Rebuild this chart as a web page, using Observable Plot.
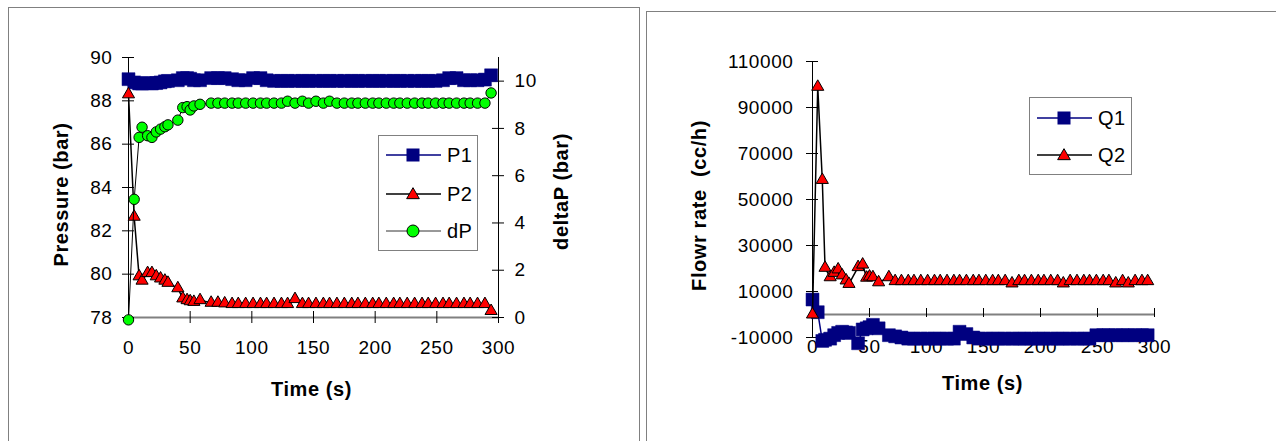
<!DOCTYPE html>
<html><head><meta charset="utf-8">
<script src="https://cdn.jsdelivr.net/npm/d3@7"></script>
<script src="https://cdn.jsdelivr.net/npm/@observablehq/plot@0.6"></script>
<style>
body{margin:0;background:#fff;}
#page{position:relative;width:1276px;height:441px;overflow:hidden;background:#fff;font-family:"Liberation Sans",Arial,sans-serif;}
.frame{position:absolute;border:1px solid #808080;box-sizing:border-box;}
.chart{position:absolute;top:0;}
.legend{position:absolute;border:1px solid #808080;background:#fff;box-sizing:border-box;}
.legend .row{position:absolute;left:0;height:24px;}
.legend .lbl{position:absolute;font-size:20px;letter-spacing:0.5px;line-height:24px;}
</style></head><body>
<div id="page">
  <div class="frame" style="left:8px;top:7px;width:632px;height:450px"></div>
  <div class="frame" style="left:646px;top:11px;width:650px;height:450px"></div>
  <div id="left" class="chart" style="left:0px"></div>
  <div id="right" class="chart" style="left:640px"></div>
</div>
<script>
// ---- data ----
const time = [0, 4.6, 8.6, 11, 15.5, 19, 22.5, 26, 29.5, 32, 40, 44, 47.5, 50, 53, 58, 67, 72.5,
  78, 84, 89, 95, 101, 107, 112, 118, 124, 129, 135, 141, 146, 152, 158, 163, 169, 175, 181, 186,
  192, 198, 203, 209, 215, 220, 226, 232, 238, 243, 249, 255, 260, 266, 272, 277, 283, 289, 294];
const P1 = [89.0, 88.85, 88.8, 88.8, 88.82, 88.8, 88.82, 88.85, 88.9, 88.92, 88.95, 89.05, 89.05, 89.02, 88.95, 88.95, 89.05, 89.05,
  89.05, 89.0, 88.95, 88.95, 89.05, 89.05, 88.95, 88.92, 88.92, 88.92, 88.92, 88.92, 88.92, 88.92, 88.92, 88.92, 88.92, 88.92, 88.92, 88.92,
  88.92, 88.92, 88.92, 88.92, 88.92, 88.92, 88.92, 88.92, 88.92, 88.92, 88.92, 88.95, 89.05, 89.05, 88.95, 88.95, 88.95, 88.98, 89.18];
const P2 = [88.3, 82.65, 79.9, 79.7, 80.05, 80.05, 79.9, 79.8, 79.7, 79.6, 79.35, 78.88, 78.8, 78.75, 78.72, 78.8, 78.68, 78.68,
  78.65, 78.62, 78.62, 78.62, 78.62, 78.62, 78.62, 78.62, 78.62, 78.62, 78.85, 78.62, 78.62, 78.62, 78.62, 78.62, 78.62, 78.62, 78.62, 78.62,
  78.62, 78.62, 78.62, 78.62, 78.62, 78.62, 78.62, 78.62, 78.62, 78.62, 78.62, 78.62, 78.62, 78.62, 78.62, 78.62, 78.62, 78.62, 78.3];
const dP = [-0.1, 5.0, 7.62, 8.05, 7.69, 7.62, 7.85, 7.97, 8.07, 8.15, 8.35, 8.88, 8.92, 8.78, 8.95, 9.02, 9.07, 9.07,
  9.07, 9.07, 9.07, 9.07, 9.07, 9.07, 9.07, 9.07, 9.07, 9.15, 9.07, 9.15, 9.07, 9.15, 9.07, 9.15, 9.07, 9.07, 9.07, 9.07,
  9.07, 9.07, 9.07, 9.07, 9.07, 9.07, 9.07, 9.07, 9.07, 9.07, 9.07, 9.07, 9.07, 9.07, 9.07, 9.07, 9.07, 9.07, 9.5];
const Q1 = [6500, 1000, -11500, -11000, -10500, -9000, -8000, -7500, -7800, -8000, -12500, -6500, -6000, -5500, -4500, -6000, -9000, -9500,
  -10000, -10500, -10500, -10500, -10500, -10500, -10500, -10500, -10500, -7500, -8500, -10000, -10500, -10500, -10500, -10500, -10500, -10500, -10500, -10500,
  -10500, -10500, -10500, -10500, -10500, -10500, -10500, -10500, -10500, -10500, -9000, -9000, -9000, -9000, -9000, -9000, -9000, -9000, -9000];
const Q2 = [0, 99000, 58500, 20300, 16200, 18100, 19600, 17000, 14800, 13300, 20600, 21700, 16000, 16500, 16200, 14000, 16200, 14500,
  14500, 14500, 14500, 14500, 14500, 14500, 14500, 14500, 14500, 14500, 14500, 14500, 14500, 14500, 14500, 14500, 14500, 13500, 14500, 14500,
  14500, 14500, 14500, 14500, 14500, 13500, 14500, 14500, 14500, 14500, 14500, 14500, 14500, 13500, 14500, 13500, 14500, 14500, 14500];

const timeTicks = [0, 50, 100, 150, 200, 250, 300];
const pressureTicks = [78, 80, 82, 84, 86, 88, 90];
const deltaPTicks = [0, 2, 4, 6, 8, 10];
const flowTicks = [-10000, 10000, 30000, 50000, 70000, 90000, 110000];

const rows = time.map((t, i) => ({t, P1: P1[i], P2: P2[i], dP: dP[i], Q1: Q1[i], Q2: Q2[i]}));

// secondary axis (deltaP 0..11) mapped onto the pressure axis (78..90)
const toP = d3.scaleLinear([0, 11], [78, 90]);

const NAVY = "#000080", RED = "#FF0000", GREEN = "#00FF00";
const font = '"Liberation Sans", Arial, sans-serif';
const TICK_FS = 19, TITLE_FS = 20;
const title = (txt, o) => Plot.text([txt], {text: d => d, fontWeight: "bold", fontSize: TITLE_FS, textAnchor: "middle", lineAnchor: "middle", ariaLabel: "title", ...o});

const left = Plot.plot({
  width: 640, height: 441,
  marginLeft: 128, marginRight: 142, marginTop: 57, marginBottom: 124,
  x: {domain: [0, 300]},
  y: {domain: [78, 90]},
  style: {fontFamily: font, fontSize: "18px", color: "black", background: "transparent", overflow: "visible"},
  marks: [
    Plot.axisY({anchor: "left", ticks: pressureTicks, tickSize: 0, tickPadding: 16, label: null, fontSize: TICK_FS}),
    Plot.axisY({anchor: "right", ticks: deltaPTicks.map(toP), tickFormat: d => String(Math.round(toP.invert(d))), tickSize: 0, tickPadding: 16, label: null, fontSize: TICK_FS}),
    Plot.axisX({anchor: "bottom", ticks: timeTicks, tickSize: 0, tickPadding: 23, label: null, fontSize: TICK_FS}),
    Plot.ruleY([78], {x1: 0, x2: 300, stroke: "#808080", strokeWidth: 2}),
    Plot.ruleX([0, 300], {y1: 78, y2: 90, stroke: "black"}),
    Plot.ruleY(pressureTicks, {x1: 0, x2: 0, insetLeft: -6, insetRight: -6, stroke: "black"}),
    Plot.ruleY(deltaPTicks.map(toP), {x1: 300, x2: 300, insetLeft: -6, insetRight: -6, stroke: "black"}),
    Plot.ruleX(timeTicks, {y1: 78, y2: 78, insetTop: -6, insetBottom: -6, stroke: "black"}),
    Plot.line(rows, {x: "t", y: "P1", stroke: NAVY, strokeWidth: 1.5}),
    Plot.dot(rows, {x: "t", y: "P1", symbol: "square", r: 7.3, fill: NAVY, stroke: NAVY, strokeWidth: 0.5}),
    Plot.line(rows, {x: "t", y: "P2", stroke: "black", strokeWidth: 1.5}),
    Plot.dot(rows, {x: "t", y: "P2", symbol: "triangle", r: 4.5, fill: RED, stroke: "black", strokeWidth: 1}),
    Plot.line(rows, {x: "t", y: d => toP(d.dP), stroke: "black", strokeWidth: 1}),
    Plot.dot(rows, {x: "t", y: d => toP(d.dP), r: 5.2, fill: GREEN, stroke: "black", strokeWidth: 1}),
    title("Time (s)", {frameAnchor: "bottom", dx: -2, dy: 72}),
    title("Pressure (bar)", {frameAnchor: "left", dx: -67, dy: 7, rotate: -90}),
    title("deltaP (bar)", {frameAnchor: "right", dx: 63, dy: 4, rotate: -90})
  ]
});
document.getElementById("left").appendChild(left);

const right = Plot.plot({
  width: 636, height: 441,
  marginLeft: 172, marginRight: 122, marginTop: 61, marginBottom: 104,
  x: {domain: [0, 300]},
  y: {domain: [-10000, 110000]},
  style: {fontFamily: font, fontSize: "18px", color: "black", background: "transparent", overflow: "visible"},
  marks: [
    Plot.axisY({anchor: "left", ticks: flowTicks, tickFormat: d => String(d), tickSize: 0, tickPadding: 19, label: null, fontSize: TICK_FS}),
    Plot.axisX({anchor: "bottom", ticks: timeTicks, tickSize: 0, tickPadding: 2, label: null, fontSize: TICK_FS}),
    Plot.ruleY([0], {x1: 0, x2: 300, stroke: "#808080", strokeWidth: 2}),
    Plot.ruleX([0], {y1: -10000, y2: 110000, stroke: "black"}),
    Plot.ruleY(flowTicks, {x1: 0, x2: 0, insetLeft: -6, insetRight: -6, stroke: "black"}),
    Plot.ruleX(timeTicks, {y1: 0, y2: 0, insetTop: -6, insetBottom: -3, stroke: "black"}),
    Plot.line(rows, {x: "t", y: "Q1", stroke: NAVY, strokeWidth: 1.5}),
    Plot.dot(rows, {x: "t", y: "Q1", symbol: "square", r: 7.3, fill: NAVY, stroke: NAVY, strokeWidth: 0.5}),
    Plot.line(rows, {x: "t", y: "Q2", stroke: "black", strokeWidth: 1.5}),
    Plot.dot(rows, {x: "t", y: "Q2", symbol: "triangle", r: 4.5, fill: RED, stroke: "black", strokeWidth: 1}),
    title("Time (s)", {frameAnchor: "bottom", dx: -1, dy: 46}),
    title("Flowr rate\u00a0\u00a0(cc/h)", {frameAnchor: "left", dx: -113, dy: 6, rotate: -90})
  ]
});
document.getElementById("right").appendChild(right);

// letter spacing (the reference text is drawn slightly wide)
d3.selectAll("#page svg text").style("letter-spacing", "0.6px");
d3.selectAll("#page svg g[aria-label='title'] text").style("letter-spacing", "1.2px");

// ---- legends ----
function legend(x, y, w, h, entries) {
  const box = document.createElement("div");
  box.className = "legend";
  Object.assign(box.style, {left: x + "px", top: y + "px", width: w + "px", height: h + "px"});
  for (const e of entries) {
    const row = document.createElement("div");
    row.className = "row";
    row.style.top = (e.y - 12) + "px";
    row.style.width = w + "px";
    const s = d3.create("svg").attr("width", 64).attr("height", 24).style("position", "absolute").style("left", "0px").style("top", "0px");
    s.append("line").attr("x1", 7).attr("x2", 62).attr("y1", 12).attr("y2", 12).attr("stroke", e.line).attr("stroke-width", e.lw);
    if (e.sym === "square") s.append("rect").attr("x", 27.5).attr("y", 5.5).attr("width", 13).attr("height", 13).attr("fill", NAVY);
    if (e.sym === "triangle") s.append("path").attr("d", d3.symbol(d3.symbolTriangle, 70)()).attr("transform", "translate(34,13)").attr("fill", RED).attr("stroke", "black");
    if (e.sym === "circle") s.append("circle").attr("cx", 34).attr("cy", 12).attr("r", 6).attr("fill", GREEN).attr("stroke", "black");
    row.appendChild(s.node());
    const lbl = document.createElement("div");
    lbl.className = "lbl";
    lbl.style.left = "68px";
    lbl.style.top = "0px";
    lbl.textContent = e.label;
    row.appendChild(lbl);
    box.appendChild(row);
  }
  document.getElementById("page").appendChild(box);
}
legend(378, 135, 100, 116, [
  {label: "P1", y: 19, line: NAVY, lw: 1.5, sym: "square"},
  {label: "P2", y: 58, line: "black", lw: 1.5, sym: "triangle"},
  {label: "dP", y: 95, line: "#333", lw: 1, sym: "circle"}
]);
legend(1029, 97, 103, 78, [
  {label: "Q1", y: 20, line: NAVY, lw: 1.5, sym: "square"},
  {label: "Q2", y: 57, line: "black", lw: 1.5, sym: "triangle"}
]);
</script>
</body></html>
